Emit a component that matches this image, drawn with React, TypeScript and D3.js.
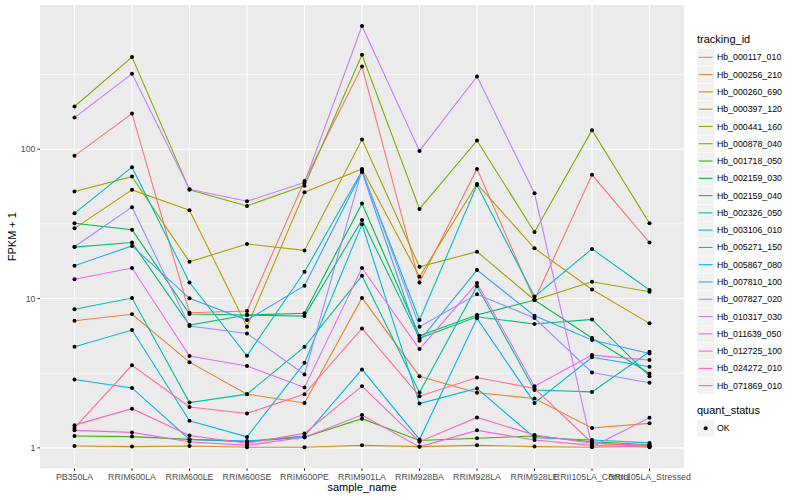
import React, { useEffect, useRef } from "react";
import * as d3 from "d3";

// sample names on the x axis
const samples = [
  "PB350LA",
  "RRIM600LA",
  "RRIM600LE",
  "RRIM600SE",
  "RRIM600PE",
  "RRIM901LA",
  "RRIM928BA",
  "RRIM928LA",
  "RRIM928LE",
  "RRII105LA_Control",
  "RRII105LA_Stressed",
];

const trackingIds = [
  "Hb_000117_010",
  "Hb_000256_210",
  "Hb_000260_690",
  "Hb_000397_120",
  "Hb_000441_160",
  "Hb_000878_040",
  "Hb_001718_050",
  "Hb_002159_030",
  "Hb_002159_040",
  "Hb_002326_050",
  "Hb_003106_010",
  "Hb_005271_150",
  "Hb_005867_080",
  "Hb_007810_100",
  "Hb_007827_020",
  "Hb_010317_030",
  "Hb_011639_050",
  "Hb_012725_100",
  "Hb_024272_010",
  "Hb_071869_010",
];

// ggplot default hue palette, 20 levels
const colors = [
  "#F8766D", "#EA8331", "#D89000", "#C09B00", "#A3A500",
  "#7CAE00", "#39B600", "#00BB4E", "#00BF7D", "#00C1A3",
  "#00BFC4", "#00BAE0", "#00B0F6", "#35A2FF", "#9590FF",
  "#C77CFF", "#E76BF3", "#FA62DB", "#FF62BC", "#FF6C91",
];

// FPKM + 1, one row per tracking_id, one column per sample
const fpkm: number[][] = [
  [90.2, 173.2, 8.03, 8.25, 61.3, 357.8, 12.8, 73.8, 9.77, 67.3, 23.7],
  [7.1, 7.84, 3.75, 2.29, 2.0, 10.1, 3.02, 2.34, 2.14, 1.36, 1.46],
  [1.03, 1.02, 1.03, 1.01, 1.01, 1.04, 1.02, 1.04, 1.02, 1.01, 1.03],
  [29.5, 53.4, 39.0, 6.47, 51.5, 73.8, 14.0, 58.5, 21.7, 11.5, 6.82],
  [52.0, 65.5, 17.6, 23.2, 21.0, 116, 16.3, 20.6, 9.77, 12.96, 11.1],
  [193, 413.6, 53.4, 41.7, 57.0, 428.6, 39.8, 114.2, 27.9, 134.1, 31.9],
  [1.2, 1.19, 1.14, 1.1, 1.18, 1.57, 1.12, 1.16, 1.2, 1.1, 1.05],
  [31.9, 28.9, 7.87, 7.75, 7.96, 43.2, 5.63, 7.75, 9.77, 5.44, 3.15],
  [22.1, 23.7, 6.64, 7.75, 7.63, 33.6, 5.41, 7.55, 6.75, 7.25, 3.02],
  [8.47, 10.08, 2.01, 2.29, 4.75, 14.2, 2.35, 12.1, 2.44, 2.37, 4.4],
  [37.2, 75.8, 12.8, 4.14, 15.1, 71.5, 7.18, 57.6, 10.3, 21.5, 11.4],
  [4.75, 6.15, 1.52, 1.185, 3.71, 31.4, 1.98, 2.5, 1.17, 1.13, 1.08],
  [2.87, 2.52, 1.14, 1.11, 1.2, 3.35, 1.14, 7.37, 2.0, 4.04, 3.49],
  [16.6, 22.5, 10.03, 7.18, 12.2, 70.4, 5.21, 15.5, 7.67, 5.27, 4.29],
  [22.2, 40.9, 6.54, 5.84, 3.1, 72.7, 6.47, 10.67, 7.4, 3.2, 2.73],
  [162.8, 319.6, 53.9, 44.8, 59.7, 667.3, 97.4, 306.6, 50.7, 1.016, 1.59],
  [13.45, 16.0, 4.12, 3.53, 2.54, 16.0, 4.59, 12.7, 2.59, 4.18, 3.87],
  [1.31, 1.27, 1.1, 1.04, 1.18, 1.66, 1.016, 1.31, 1.13, 1.04, 1.01],
  [1.42, 1.83, 1.21, 1.075, 1.25, 2.59, 1.1, 1.6, 1.22, 1.075, 1.04],
  [1.36, 3.57, 1.88, 1.7, 2.29, 6.31, 2.22, 2.96, 2.5, 1.08, 1.02],
];

const yBreaks = [1, 10, 100];
const yMinor = [Math.pow(10, 0.5), Math.pow(10, 1.5), Math.pow(10, 2.5)];

const font = "'Liberation Sans', Arial, Helvetica, sans-serif";

const App = () => {
  const chartRef = useRef<SVGSVGElement>(null);

  const width = 800,
    height = 500,
    panelLeft = 40,
    panelRight = 684,
    panelTop = 5,
    panelBottom = 468.3;

  useEffect(() => {
    if (!chartRef.current) return;
    const svg = d3.select(chartRef.current);
    svg.selectAll("*").remove();
    svg.style("font-family", font);

    svg.append("rect").attr("width", width).attr("height", height).attr("fill", "#fff");

    const x = d3
      .scalePoint<string>()
      .domain(samples)
      .range([panelLeft, panelRight])
      .padding(0.6);

    // ggplot-like 5% expansion on log scale
    const all = fpkm.flat();
    const lo = Math.log10(d3.min(all) as number);
    const hi = Math.log10(d3.max(all) as number);
    const pad = (hi - lo) * 0.05;
    const y = d3
      .scaleLog()
      .domain([Math.pow(10, lo - pad), Math.pow(10, hi + pad)])
      .range([panelBottom, panelTop]);

    // panel
    svg
      .append("rect")
      .attr("x", panelLeft)
      .attr("y", panelTop)
      .attr("width", panelRight - panelLeft)
      .attr("height", panelBottom - panelTop)
      .attr("fill", "#EBEBEB");

    const grid = svg.append("g");
    grid
      .selectAll("line.minor")
      .data(yMinor)
      .join("line")
      .attr("x1", panelLeft)
      .attr("x2", panelRight)
      .attr("y1", (d) => y(d))
      .attr("y2", (d) => y(d))
      .attr("stroke", "#fff")
      .attr("stroke-width", 0.55);
    grid
      .selectAll("line.major")
      .data(yBreaks)
      .join("line")
      .attr("x1", panelLeft)
      .attr("x2", panelRight)
      .attr("y1", (d) => y(d))
      .attr("y2", (d) => y(d))
      .attr("stroke", "#fff")
      .attr("stroke-width", 1.1);
    grid
      .selectAll("line.vert")
      .data(samples)
      .join("line")
      .attr("x1", (d) => x(d) as number)
      .attr("x2", (d) => x(d) as number)
      .attr("y1", panelTop)
      .attr("y2", panelBottom)
      .attr("stroke", "#fff")
      .attr("stroke-width", 1.1);

    // lines
    const line = d3
      .line<number>()
      .x((_, i) => x(samples[i]) as number)
      .y((d) => y(d));

    svg
      .append("g")
      .selectAll("path")
      .data(fpkm)
      .join("path")
      .attr("d", (d) => line(d))
      .attr("fill", "none")
      .attr("stroke", (_, i) => colors[i])
      .attr("stroke-width", 1.1);

    // points
    const pts = fpkm.flatMap((row) => row.map((v, i) => ({ s: samples[i], v })));
    svg
      .append("g")
      .selectAll("circle")
      .data(pts)
      .join("circle")
      .attr("cx", (d) => x(d.s) as number)
      .attr("cy", (d) => y(d.v))
      .attr("r", 2)
      .attr("fill", "#000");

    // y axis
    const yAxis = svg.append("g");
    yAxis
      .selectAll("line")
      .data(yBreaks)
      .join("line")
      .attr("x1", panelLeft - 2.7)
      .attr("x2", panelLeft)
      .attr("y1", (d) => y(d))
      .attr("y2", (d) => y(d))
      .attr("stroke", "#333")
      .attr("stroke-width", 1);
    yAxis
      .selectAll("text")
      .data(yBreaks)
      .join("text")
      .attr("x", panelLeft - 4.5)
      .attr("y", (d) => y(d))
      .attr("dy", "0.35em")
      .attr("text-anchor", "end")
      .attr("font-size", 8.8)
      .attr("fill", "#4D4D4D")
      .text((d) => d3.format("d")(d));

    // x axis
    const xAxis = svg.append("g");
    xAxis
      .selectAll("line")
      .data(samples)
      .join("line")
      .attr("x1", (d) => x(d) as number)
      .attr("x2", (d) => x(d) as number)
      .attr("y1", panelBottom)
      .attr("y2", panelBottom + 2.7)
      .attr("stroke", "#333")
      .attr("stroke-width", 1);
    xAxis
      .selectAll("text")
      .data(samples)
      .join("text")
      .attr("x", (d) => x(d) as number)
      .attr("y", panelBottom + 11.8)
      .attr("text-anchor", "middle")
      .attr("font-size", 8.8)
      .attr("fill", "#4D4D4D")
      .text((d) => d);

    // axis titles
    svg
      .append("text")
      .attr("x", (panelLeft + panelRight) / 2)
      .attr("y", 491)
      .attr("text-anchor", "middle")
      .attr("font-size", 11)
      .attr("fill", "#000")
      .text("sample_name");
    svg
      .append("text")
      .attr("transform", `translate(16,${(panelTop + panelBottom) / 2}) rotate(-90)`)
      .attr("text-anchor", "middle")
      .attr("font-size", 11)
      .attr("fill", "#000")
      .text("FPKM + 1");

    // legend: tracking_id
    const keySize = 17.28,
      legendX = 697,
      keyTop = 48.7;
    const legend = svg.append("g");
    legend
      .append("text")
      .attr("x", legendX)
      .attr("y", 42.5)
      .attr("font-size", 11)
      .attr("fill", "#000")
      .text("tracking_id");
    const keys = legend
      .selectAll("g.key")
      .data(trackingIds)
      .join("g")
      .attr("transform", (_, i) => `translate(${legendX},${keyTop + i * keySize})`);
    keys
      .append("rect")
      .attr("width", keySize)
      .attr("height", keySize)
      .attr("fill", "#F2F2F2")
      .attr("stroke", "#fff")
      .attr("stroke-width", 0.5);
    keys
      .append("line")
      .attr("x1", 1.7)
      .attr("x2", keySize - 1.7)
      .attr("y1", keySize / 2)
      .attr("y2", keySize / 2)
      .attr("stroke", (_, i) => colors[i])
      .attr("stroke-width", 1.1);
    keys
      .append("text")
      .attr("x", keySize + 2.6)
      .attr("y", keySize / 2)
      .attr("dy", "0.35em")
      .attr("font-size", 8.8)
      .attr("fill", "#000")
      .text((d) => d);

    // legend: quant_status
    const qTop = 413.5;
    legend
      .append("text")
      .attr("x", legendX)
      .attr("y", qTop)
      .attr("font-size", 11)
      .attr("fill", "#000")
      .text("quant_status");
    const ok = legend
      .append("g")
      .attr("transform", `translate(${legendX},${qTop + 6.2})`);
    ok.append("rect")
      .attr("width", keySize)
      .attr("height", keySize)
      .attr("fill", "#F2F2F2");
    ok.append("circle")
      .attr("cx", keySize / 2)
      .attr("cy", keySize / 2)
      .attr("r", 2)
      .attr("fill", "#000");
    ok.append("text")
      .attr("x", keySize + 2.6)
      .attr("y", keySize / 2)
      .attr("dy", "0.35em")
      .attr("font-size", 8.8)
      .attr("fill", "#000")
      .text("OK");
  }, []);

  return (
    <svg
      ref={chartRef}
      width={width}
      height={height}
      style={{ position: "absolute", left: 0, top: 0, display: "block" }}
    ></svg>
  );
};

export default App;
